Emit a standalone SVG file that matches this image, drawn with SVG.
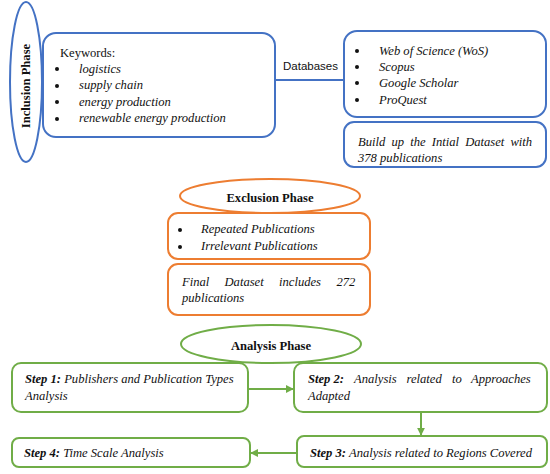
<svg xmlns="http://www.w3.org/2000/svg" width="550" height="474" viewBox="0 0 550 474">
<style>
text{font-family:"Liberation Serif",serif;fill:#111;font-size:12.6px}
.it{font-style:italic}
.b{font-weight:bold}
.bl{fill:none;stroke:#4472C4;stroke-width:2}
.or{fill:none;stroke:#ED7D31;stroke-width:2}
.gr{fill:none;stroke:#70AD47;stroke-width:2}
.dot{fill:#111}
.sans{font-family:"Liberation Sans",sans-serif;font-size:11.5px}
</style>
<defs>
<marker id="ah" viewBox="0 0 10 10" refX="9" refY="5" markerWidth="4" markerHeight="4" orient="auto" markerUnits="strokeWidth">
<path d="M0,0 L10,5 L0,10 z" fill="#70AD47"/>
</marker>
</defs>
<rect width="550" height="474" fill="#fff"/>
<g id="connectors">
<line x1="275" y1="80" x2="344" y2="80" stroke="#4472C4" stroke-width="2"/>
<text class="sans" x="283" y="70">Databases</text>
<line x1="248" y1="389" x2="293" y2="389" class="gr" marker-end="url(#ah)"/>
<line x1="421" y1="412" x2="421" y2="435" class="gr" marker-end="url(#ah)"/>
<line x1="297" y1="453" x2="251" y2="453" class="gr" marker-end="url(#ah)"/>
</g>
<g id="inclusion-phase">
<ellipse cx="26" cy="82" rx="16" ry="80" class="bl"/>
<text class="b" font-size="13.5" transform="translate(30,86) rotate(-90)" text-anchor="middle">Inclusion Phase</text>
</g>
<g id="keywords">
<rect x="43" y="33" width="232" height="104" rx="13" class="bl"/>
<text x="60" y="57" font-size="14">Keywords:</text>
<circle class="dot" cx="57" cy="69" r="2"/>
<circle class="dot" cx="57" cy="86" r="2"/>
<circle class="dot" cx="57" cy="102" r="2"/>
<circle class="dot" cx="57" cy="119" r="2"/>
<text class="it" x="79" y="73">logistics</text>
<text class="it" x="79" y="89">supply chain</text>
<text class="it" x="79" y="106">energy production</text>
<text class="it" x="79" y="122">renewable energy production</text>
</g>
<g id="databases">
<rect x="344" y="31" width="202" height="86" rx="13" class="bl"/>
<circle class="dot" cx="357" cy="51" r="2"/>
<circle class="dot" cx="357" cy="67" r="2"/>
<circle class="dot" cx="357" cy="83" r="2"/>
<circle class="dot" cx="357" cy="100" r="2"/>
<text class="it" x="379" y="55">Web of Science (WoS)</text>
<text class="it" x="379" y="71">Scopus</text>
<text class="it" x="379" y="87">Google Scholar</text>
<text class="it" x="379" y="104">ProQuest</text>
</g>
<g id="initial-dataset">
<rect x="344" y="122" width="202" height="45" rx="10" class="bl"/>
<text class="it" x="358" y="146" font-size="13" word-spacing="3">Build up the Intial Dataset with</text>
<text class="it" x="358" y="162" font-size="13">378 publications</text>
</g>
<g id="exclusion-phase">
<ellipse cx="270" cy="196" rx="90" ry="17" class="or"/>
<text class="b" x="270" y="202" font-size="13.5" text-anchor="middle">Exclusion Phase</text>
</g>
<g id="exclusion-criteria">
<rect x="168" y="213" width="202" height="46" rx="10" class="or"/>
<circle class="dot" cx="180" cy="230" r="2"/>
<circle class="dot" cx="180" cy="247" r="2"/>
<text class="it" x="201" y="233" font-size="13">Repeated Publications</text>
<text class="it" x="201" y="250" font-size="13">Irrelevant Publications</text>
</g>
<g id="final-dataset">
<rect x="168" y="264" width="202" height="51" rx="10" class="or"/>
<text class="it" y="286" font-size="13"><tspan x="182">Final</tspan><tspan x="224.5">Dataset</tspan><tspan x="279">includes</tspan><tspan x="336.5">272</tspan></text>
<text class="it" x="182" y="302" font-size="13">publications</text>
</g>
<g id="analysis-phase">
<ellipse cx="271" cy="344" rx="90" ry="19" class="gr"/>
<text class="b" x="271" y="350" font-size="13.5" text-anchor="middle">Analysis Phase</text>
</g>
<g id="step1">
<rect x="12" y="363" width="236" height="49" rx="9" class="gr"/>
<text class="it" x="25" y="383"><tspan class="b">Step 1:</tspan> Publishers and Publication Types</text>
<text class="it" x="25" y="400">Analysis</text>
</g>
<g id="step2">
<rect x="294" y="363" width="253" height="49" rx="9" class="gr"/>
<text class="it" y="383" font-size="13"><tspan class="b" x="308">Step 2:</tspan><tspan x="354">Analysis</tspan><tspan x="406.5">related</tspan><tspan x="452">to</tspan><tspan x="471">Approaches</tspan></text>
<text class="it" x="308" y="400" font-size="13">Adapted</text>
</g>
<g id="step3">
<rect x="297" y="436" width="250" height="31" rx="7" class="gr"/>
<text class="it" x="310" y="457"><tspan class="b">Step 3:</tspan> Analysis related to Regions Covered</text>
</g>
<g id="step4">
<rect x="12" y="438" width="238" height="29" rx="7" class="gr"/>
<text class="it" x="24" y="457"><tspan class="b">Step 4:</tspan> Time Scale Analysis</text>
</g>
</svg>
